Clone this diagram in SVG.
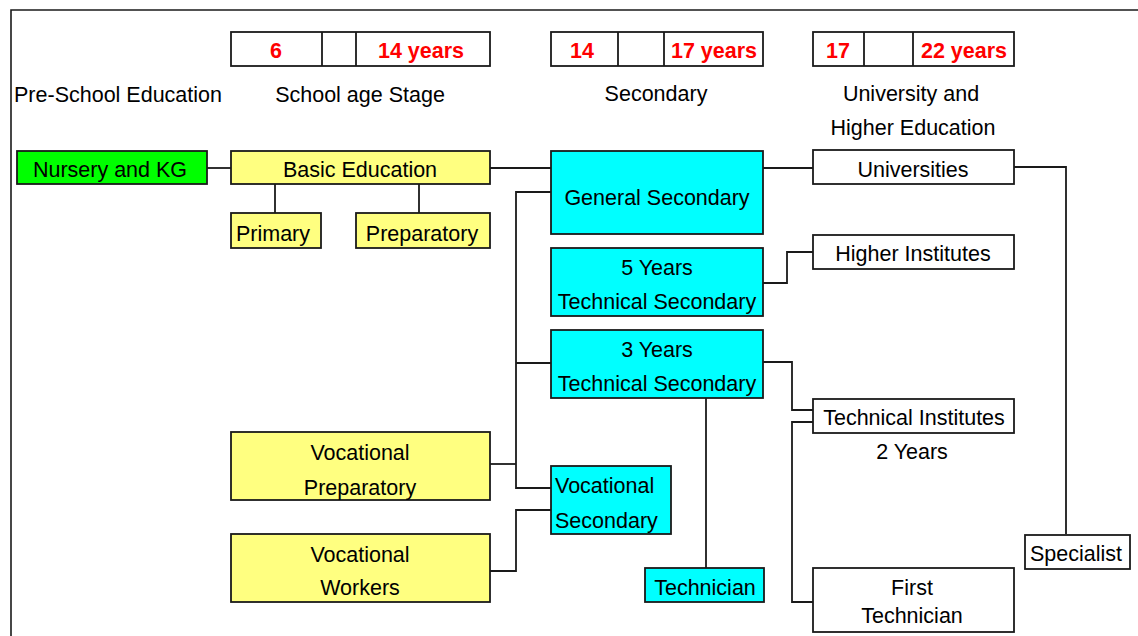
<svg xmlns="http://www.w3.org/2000/svg" width="1138" height="636" viewBox="0 0 1138 636">
<style>
text{font-family:"Liberation Sans",Arial,sans-serif;font-size:21.5px;fill:#000;text-anchor:middle}
.age{font-weight:bold;fill:#ff0000;font-size:21.5px}
.box{stroke:#1a1a1a;stroke-width:1.8}
.w{fill:#ffffff}
.y{fill:#ffff80}
.c{fill:#00ffff}
.g{fill:#00ff00}
.ln{fill:none;stroke:#1a1a1a;stroke-width:1.8}
.l{text-anchor:start}
</style>
<rect x="0" y="0" width="1138" height="636" fill="#ffffff"/>
<path d="M11,636 V10 H1138" fill="none" stroke="#1a1a1a" stroke-width="1.6"/>

<g id="age-school">
<rect class="box w" x="231" y="32" width="259" height="34"/>
<path class="ln" d="M322,32 V66 M356,32 V66"/>
<text class="age" x="276" y="58">6</text>
<text class="age" x="421" y="58">14 years</text>
</g>
<g id="age-secondary">
<rect class="box w" x="551" y="32" width="212" height="34"/>
<path class="ln" d="M618,32 V66 M664,32 V66"/>
<text class="age" x="582" y="58">14</text>
<text class="age" x="714" y="58">17 years</text>
</g>
<g id="age-university">
<rect class="box w" x="813" y="32" width="201" height="34"/>
<path class="ln" d="M864,32 V66 M913,32 V66"/>
<text class="age" x="838" y="58">17</text>
<text class="age" x="964" y="58">22 years</text>
</g>

<g id="headers">
<text x="118" y="102">Pre-School Education</text>
<text x="360" y="102">School age Stage</text>
<text x="656" y="101">Secondary</text>
<text x="911" y="101">University and</text>
<text x="913" y="135">Higher Education</text>
</g>

<g id="connectors">
<path class="ln" d="M207,168 H231"/>
<path class="ln" d="M275,184 V213"/>
<path class="ln" d="M419,184 V213"/>
<path class="ln" d="M490,168 H551"/>
<path class="ln" d="M763,168 H813"/>
<path class="ln" d="M1014,167 H1066 V534"/>
<path class="ln" d="M551,192 H516 V488 H551"/>
<path class="ln" d="M516,363 H551"/>
<path class="ln" d="M490,464 H516"/>
<path class="ln" d="M490,571 H516 V510 H551"/>
<path class="ln" d="M763,283 H787 V252 H813"/>
<path class="ln" d="M763,362 H792 V410 H813"/>
<path class="ln" d="M813,422 H792 V602 H813"/>
<path class="ln" d="M706,398 V568"/>
</g>

<g id="nursery">
<rect class="box g" x="17" y="151" width="190" height="33"/>
<text x="110" y="177">Nursery and KG</text>
</g>
<g id="basic">
<rect class="box y" x="231" y="151" width="259" height="33"/>
<text x="360" y="177">Basic Education</text>
</g>
<g id="primary">
<rect class="box y" x="231" y="213" width="90" height="35"/>
<text x="273" y="241">Primary</text>
</g>
<g id="preparatory">
<rect class="box y" x="356" y="213" width="134" height="35"/>
<text x="422" y="241">Preparatory</text>
</g>
<g id="general-secondary">
<rect class="box c" x="551" y="151" width="212" height="83"/>
<text x="657" y="205">General Secondary</text>
</g>
<g id="tech5">
<rect class="box c" x="551" y="248" width="212" height="68"/>
<text x="657" y="275">5 Years</text>
<text x="657" y="309">Technical Secondary</text>
</g>
<g id="tech3">
<rect class="box c" x="551" y="330" width="212" height="68"/>
<text x="657" y="357">3 Years</text>
<text x="657" y="391">Technical Secondary</text>
</g>
<g id="voc-prep">
<rect class="box y" x="231" y="432" width="259" height="68"/>
<text x="360" y="460">Vocational</text>
<text x="360" y="495">Preparatory</text>
</g>
<g id="voc-workers">
<rect class="box y" x="231" y="534" width="259" height="68"/>
<text x="360" y="562">Vocational</text>
<text x="360" y="595">Workers</text>
</g>
<g id="voc-secondary">
<rect class="box c" x="551" y="466" width="120" height="68"/>
<text class="l" x="555" y="493">Vocational</text>
<text class="l" x="555" y="528">Secondary</text>
</g>
<g id="technician">
<rect class="box c" x="645" y="568" width="119" height="34"/>
<text x="705" y="595">Technician</text>
</g>
<g id="universities">
<rect class="box w" x="813" y="150" width="201" height="34"/>
<text x="913" y="177">Universities</text>
</g>
<g id="higher-institutes">
<rect class="box w" x="813" y="235" width="201" height="34"/>
<text x="913" y="261">Higher Institutes</text>
</g>
<g id="technical-institutes">
<rect class="box w" x="813" y="399" width="201" height="34"/>
<text x="914" y="425">Technical Institutes</text>
<text x="912" y="459">2 Years</text>
</g>
<g id="first-technician">
<rect class="box w" x="813" y="568" width="201" height="64"/>
<text x="912" y="595">First</text>
<text x="912" y="623">Technician</text>
</g>
<g id="specialist">
<rect class="box w" x="1025" y="535" width="105" height="34"/>
<text x="1076" y="561">Specialist</text>
</g>
</svg>
